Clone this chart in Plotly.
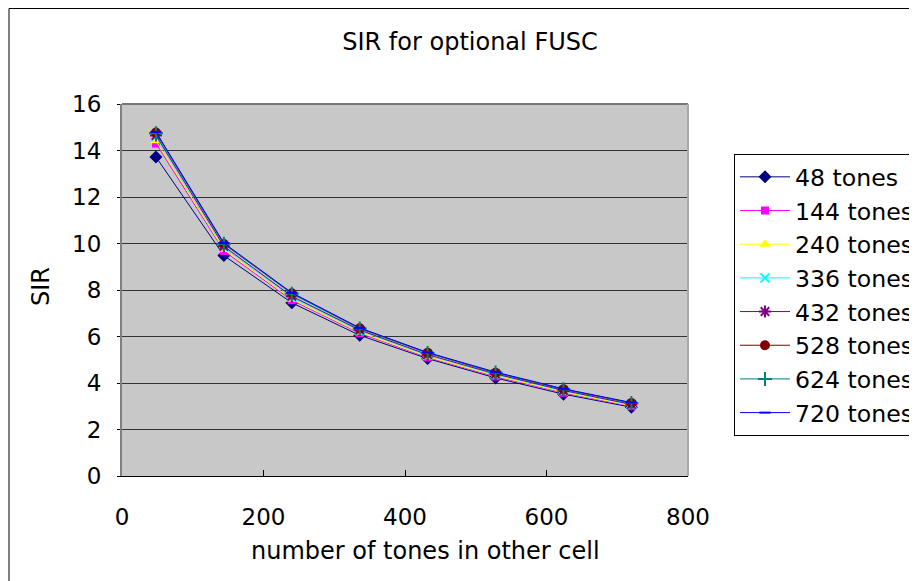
import plotly.graph_objects as go

x_tones = [48, 144, 240, 336, 432, 528, 624, 720]

names = ["48 tones", "144 tones", "240 tones", "336 tones",
         "432 tones", "528 tones", "624 tones", "720 tones"]

sir_48 = [13.72, 9.48, 7.45, 6.05, 5.05, 4.22, 3.52, 2.96]
sir_144 = [14.30, 9.68, 7.56, 6.14, 5.10, 4.28, 3.58, 3.00]
sir_240 = [14.42, 9.74, 7.60, 6.18, 5.13, 4.31, 3.61, 3.02]
sir_336 = [14.60, 9.85, 7.70, 6.25, 5.20, 4.37, 3.66, 3.07]
sir_432 = [14.65, 9.88, 7.73, 6.28, 5.22, 4.39, 3.68, 3.08]
sir_528 = [14.77, 9.98, 7.86, 6.35, 5.30, 4.44, 3.73, 3.14]
sir_624 = [14.74, 9.99, 7.84, 6.34, 5.29, 4.45, 3.73, 3.14]
sir_720 = [14.80, 10.02, 7.88, 6.37, 5.31, 4.47, 3.75, 3.16]

series = [sir_48, sir_144, sir_240, sir_336, sir_432, sir_528, sir_624, sir_720]

colors = ["#000080", "#FF00FF", "#FFFF00", "#00FFFF",
          "#800080", "#800000", "#008080", "#0000FF"]
symbols = ["diamond", "square", "triangle-up", "x-thin-open",
           "asterisk-open", "circle", "cross-thin-open", "line-ew-open"]
sizes = [10, 8, 10, 9, 10, 10, 10, 8]

FONT = "DejaVu Sans"

fig = go.Figure()
for name, ys, c, s, sz in zip(names, series, colors, symbols, sizes):
    fig.add_trace(go.Scatter(
        x=x_tones, y=ys, name=name, mode="lines+markers",
        line=dict(color=c, width=1),
        marker=dict(symbol=s, size=sz, color=c,
                    line=dict(color=c, width=2 if "open" in s else 0)),
    ))

# page body has an 8px margin: canvas coords = screen coords - 8
OFF = 8
W, H = 917 - OFF, 581 - OFF
L, R, T, B = 122 - OFF, 688 - OFF, 104 - OFF, 476 - OFF
pw, ph = R - L, B - T

def px(xs):
    return (xs - OFF - L) / pw

def py(ys):
    return (B - (ys - OFF)) / ph

fig.update_layout(
    width=W, height=H,
    margin=dict(l=L, r=W - R, t=T, b=H - B, autoexpand=False),
    paper_bgcolor="white",
    plot_bgcolor="#C8C8C8",
    font=dict(family=FONT, size=23, color="black"),
    title=dict(text="SIR for optional FUSC", x=(470 - OFF) / W, xanchor="center",
               y=1 - (42 - OFF) / H, yanchor="middle",
               font=dict(family=FONT, size=24, color="black")),
    xaxis=dict(range=[0, 800], tickvals=[0, 200, 400, 600, 800],
               showgrid=False, zeroline=False,
               ticks="inside", ticklen=6, tickcolor="black",
               showline=True, linecolor="black", linewidth=1,
               ticklabelstandoff=20,
               tickfont=dict(family=FONT, size=23)),
    yaxis=dict(range=[0, 16], tickvals=list(range(0, 17, 2)),
               showgrid=True, gridcolor="#333333", gridwidth=1,
               zeroline=False,
               ticks="outside", ticklen=3, tickcolor="black",
               showline=True, linecolor="#808080", linewidth=2,
               ticklabelstandoff=11,
               tickfont=dict(family=FONT, size=23)),
    legend=dict(x=px(734), xanchor="left", y=py(154), yanchor="top",
                bordercolor="black", borderwidth=1, bgcolor="white",
                font=dict(family=FONT, size=23.6, color="black"),
                itemwidth=50, tracegroupgap=0),
    showlegend=True,
    annotations=[
        dict(text="number of tones in other cell", xref="paper", yref="paper",
             x=px(425), y=py(551), xanchor="center", yanchor="middle",
             showarrow=False, font=dict(family=FONT, size=24, color="black")),
        dict(text="SIR", xref="paper", yref="paper", textangle=-90,
             x=px(41), y=py(287), xanchor="center", yanchor="middle",
             showarrow=False, font=dict(family=FONT, size=24, color="black")),
    ],
    shapes=[
        # outer chart frame
        dict(type="rect", xref="paper", yref="paper",
             x0=px(9), x1=px(1300), y0=py(1000), y1=py(8.5),
             line=dict(color="black", width=1), fillcolor="rgba(0,0,0,0)"),
        # top border of plot area
        dict(type="line", xref="paper", yref="paper",
             x0=0, x1=1, y0=1, y1=1, line=dict(color="#777777", width=2)),
        # right border of plot area
        dict(type="line", xref="paper", yref="paper",
             x0=1, x1=1, y0=0, y1=1, line=dict(color="#A8A8A8", width=2)),
    ],
)

fig.write_html("out.html")
